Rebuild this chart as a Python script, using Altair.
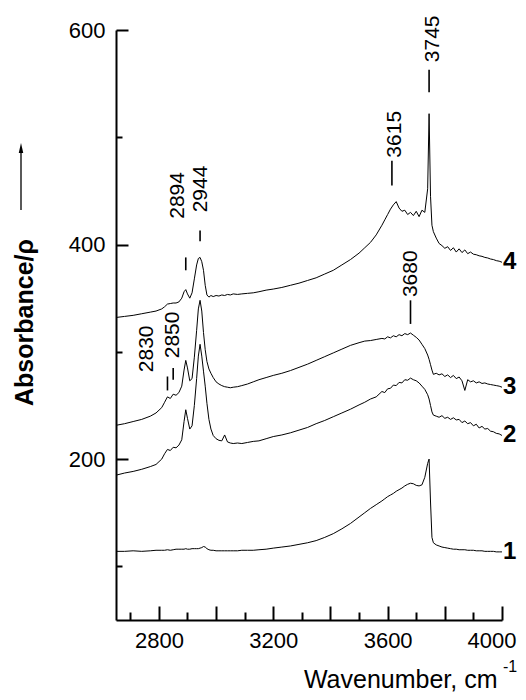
import altair as alt
import pandas as pd

# ---------------- data ----------------
wavenumber = [
    2650, 2680, 2710, 2740, 2770, 2790, 2810, 2820, 2830, 2840, 2850, 2860, 2870, 2880, 2888,
    2894, 2900, 2908, 2916, 2924, 2932, 2938, 2944, 2950, 2956, 2962, 2968, 2975, 2982, 2990,
    3000, 3010, 3020, 3030, 3040, 3050, 3060, 3075, 3090, 3110, 3130, 3150, 3175, 3200, 3230,
    3260, 3290, 3320, 3350, 3380, 3410, 3440, 3470, 3500, 3520, 3540, 3560, 3580,
    3590, 3600, 3610, 3620, 3630, 3640, 3650, 3660, 3670, 3680, 3690, 3700, 3710, 3720, 3730, 3740,
    3745, 3750, 3755, 3760, 3770, 3780, 3790, 3800, 3810, 3820, 3830, 3840, 3850, 3860, 3870,
    3880, 3890, 3900, 3910, 3920, 3930, 3940, 3950, 3960, 3970, 3980, 3990, 4000,
]

curve1 = [
    114, 114, 114.5, 114, 114.5, 115, 115, 115, 115.5, 115, 115.5, 116, 116, 116, 116,
    116.5, 116, 116, 116.5, 116.5, 116.5, 116.5, 117, 117.5, 118.5, 118, 116.5, 115.5, 115, 115,
    114.5, 114.5, 114.5, 114.5, 114.5, 114.5, 114.5, 114.5, 115, 115, 115, 115.5, 116, 117, 118,
    119, 120.5, 122, 124, 127, 130.5, 135, 140, 146, 150, 154, 157.5, 161,
    163, 165, 166.5, 168, 170, 171.5, 173, 175, 176.5, 177.5, 177, 175.5, 175, 176, 183, 196,
    200, 160, 127, 122, 120, 119, 118, 117.5, 117, 116.5, 116, 116, 115.5, 115.5, 115.5,
    115, 115, 115, 114.5, 114.5, 114.5, 114, 114, 114, 114, 113.5, 113.5, 113.5,
]

curve2 = [
    185, 187, 188.5, 190.5, 193, 195, 200, 205, 209, 208, 211, 210.5, 213, 218, 235,
    246, 238, 228, 231, 250, 275, 296, 307, 296, 282, 268, 252, 237, 228, 222,
    219, 217.5, 217, 222.5, 216, 215, 214.5, 215, 214.5, 215.5, 216.5, 217, 219, 221, 222.5,
    224.5, 227, 229.5, 233, 236, 239.5, 243, 246.5, 250.5, 253, 256, 258, 263,
    262, 265.5, 266, 269, 268.5, 271.5, 271, 274, 273.5, 275.5, 274, 273, 271, 268, 265, 260,
    256, 250, 244, 241, 240, 239, 240.5, 238, 239, 237, 238.5, 236.5, 237, 234, 235.5,
    233, 234, 231, 232.5, 229, 230.5, 228, 228.5, 226, 225.5, 224, 223.5, 222,
]

curve3 = [
    231.5, 233, 235, 237, 240, 243, 248, 253, 258, 256.5, 260.5, 259.5, 262, 268, 283,
    292, 285, 273, 275, 295, 320, 340, 348, 338, 318, 302, 291, 284, 280, 276,
    272, 270, 268.5, 267.5, 267, 266.5, 267, 267.5, 268.5, 270, 272, 274, 276, 278, 280,
    282.5, 285.5, 288.5, 292, 295.5, 299, 302.5, 306, 308.5, 310, 310.5, 311.5, 312.5,
    312, 314, 313, 315, 314, 316, 315, 317, 316, 317.5, 315.5, 313.5, 311, 307, 303, 297,
    293, 288, 283, 279, 280, 278.5, 279.5, 277, 278.5, 276, 278, 275, 276.5, 273, 264,
    274, 272, 273, 271, 272, 270.5, 271, 270, 269.5, 269, 268.5, 268, 267,
]

curve4 = [
    332, 333, 334, 335.5, 337, 338, 340, 342, 344.5, 345, 345.5, 345.5, 346.5, 350, 356,
    358, 354, 350, 355, 368, 381, 387, 388, 384, 376, 362, 353, 351, 352.5, 351.5,
    352.5, 352, 353, 352.5, 353.5, 353, 354, 353.5, 354, 354.5, 355, 356, 357.5, 358.5, 360,
    362, 364, 366.5, 369, 372.5, 376, 381, 386, 392, 397, 402, 409, 418,
    423, 428, 433, 437, 440, 434, 431, 432, 428, 430, 427, 431, 426, 432, 430, 452,
    522, 445, 418, 412, 406, 401, 399, 396.5, 398, 394.5, 397, 393, 396, 392.5, 395,
    391.5, 393, 391, 390.5, 389.5, 389, 388, 387.5, 386.5, 386, 385, 384.5, 383.5,
]

curve_names = ["1", "2", "3", "4"]

# peak annotations
ann_text = ["3745", "3615", "3680", "2944", "2894", "2850", "2830"]
ann_peak = [3745, 3615, 3680, 2944, 2894, 2850, 2830]
ann_dash_lo = [542, 455, 326, 403, 376, 274, 264]
ann_dash_hi = [563, 478, 348, 413, 388, 285, 277]
ann_label_wn = [3757, 3627, 3683, 2948, 2867, 2849, 2758]
ann_label_start = [570, 481, 351, 430, 424, 294, 281]

x_labels = [2800, 3200, 3600, 4000]
x_major = [2800, 3000, 3200, 3400, 3600, 3800, 4000]
x_minor = [2700, 2900, 3100, 3300, 3500, 3700, 3900]
y_labels = [200, 400, 600]
y_minor = [100, 300, 500]

# ---------------- chart ----------------
W, H = 386, 590
FONT = "Liberation Sans"

xs = alt.Scale(domain=[2650, 4000], nice=False, zero=False)
ys = alt.Scale(domain=[50, 600], nice=False, zero=False)

rows = []
for name, vals in zip(curve_names, [curve1, curve2, curve3, curve4]):
    for w, v in zip(wavenumber, vals):
        rows.append({"wn": w, "a": v, "curve": name})
df = pd.DataFrame(rows)

df_end = pd.DataFrame({
    "wn": [wavenumber[-1]] * 4,
    "a": [curve1[-1], curve2[-1], curve3[-1], curve4[-1]],
    "curve": curve_names,
})

df_ann = pd.DataFrame({
    "label": ann_text, "peak": ann_peak, "lo": ann_dash_lo, "hi": ann_dash_hi,
    "lwn": ann_label_wn, "start": ann_label_start,
})

one = pd.DataFrame({"k": [0]})

lines = alt.Chart(df).mark_line(color="black", strokeWidth=1).encode(
    x=alt.X("wn:Q", scale=xs, axis=alt.Axis(
        orient="bottom", values=x_labels, format="d", ticks=False, tickSize=0,
        labelPadding=10, labelFontSize=22, labelFlush=True, labelFlushOffset=14,
        domainWidth=2,
        title="Wavenumber, cm", titleFontSize=25, titleFontWeight="normal",
        titleX=381, titleY=67, titleAlign="right", titleBaseline="alphabetic")),
    y=alt.Y("a:Q", scale=ys, axis=alt.Axis(
        orient="left", values=y_labels, format="d", ticks=False, tickSize=0,
        labelPadding=11, labelFontSize=22, domainWidth=2,
        title="Absorbance/ρ", titleFontSize=25, titleFontWeight="bold",
        titleX=-92, titleY=292, titleAngle=270, titleAlign="center",
        titleBaseline="middle")),
    detail="curve:N",
)

major = alt.Chart(df).mark_point(opacity=0).encode(
    x=alt.X("wn:Q", scale=xs, axis=alt.Axis(
        orient="top", offset=-H, values=x_major, labels=False, domain=False,
        tickSize=14, tickWidth=2, title=None)),
    y=alt.Y("a:Q", scale=ys, axis=alt.Axis(
        orient="right", offset=-W, values=y_labels, labels=False, domain=False,
        tickSize=12, tickWidth=2, title=None)),
)

minor = alt.Chart(df).mark_point(opacity=0).encode(
    x=alt.X("wn:Q", scale=xs, axis=alt.Axis(
        orient="top", offset=-H, values=x_minor, labels=False, domain=False,
        tickSize=8, tickWidth=2, title=None)),
    y=alt.Y("a:Q", scale=ys, axis=alt.Axis(
        orient="right", offset=-W, values=y_minor, labels=False, domain=False,
        tickSize=6, tickWidth=2, title=None)),
)

dashes = alt.Chart(df_ann).mark_rule(color="black", strokeWidth=1.6).encode(
    x=alt.X("peak:Q", scale=xs, axis=None),
    y=alt.Y("lo:Q", scale=ys, axis=None),
    y2="hi:Q",
)

ann = alt.Chart(df_ann).mark_text(
    angle=270, align="left", baseline="middle", fontSize=21, font=FONT, color="black"
).encode(
    x=alt.X("lwn:Q", scale=xs, axis=None),
    y=alt.Y("start:Q", scale=ys, axis=None),
    text="label:N",
)

end_labels = alt.Chart(df_end).mark_text(
    align="left", baseline="middle", dx=1, fontSize=24, fontWeight="bold",
    font=FONT, color="black"
).encode(
    x=alt.X("wn:Q", scale=xs, axis=None),
    y=alt.Y("a:Q", scale=ys, axis=None),
    text="curve:N",
)

arrow_line = alt.Chart(one).mark_rule(color="black", strokeWidth=1.3).encode(
    x=alt.value(-95), y=alt.value(118), y2=alt.value(180)
)
arrow_head = alt.Chart(one).mark_point(
    shape="M0,-1L0.45,1L-0.45,1Z", filled=True, size=100, color="black", opacity=1
).encode(x=alt.value(-95), y=alt.value(118))

superscript = alt.Chart(one).mark_text(
    align="left", baseline="alphabetic", fontSize=16, font=FONT, color="black"
).encode(x=alt.value(387), y=alt.value(642), text=alt.value("-1"))

chart = alt.layer(
    lines, major, minor, dashes, ann, end_labels, arrow_line, arrow_head, superscript
).resolve_axis(
    x="independent", y="independent"
).properties(
    width=W, height=H,
    padding={"left": 108, "top": 22, "right": 16, "bottom": 72},
    autosize=alt.AutoSizeParams(type="none"),
).configure_view(
    strokeWidth=0
).configure_axis(
    labelFont=FONT, titleFont=FONT, labelColor="black", titleColor="black",
    domainColor="black", tickColor="black", grid=False,
)

chart.save("out.html", embed_options={"renderer": "svg", "actions": False})
